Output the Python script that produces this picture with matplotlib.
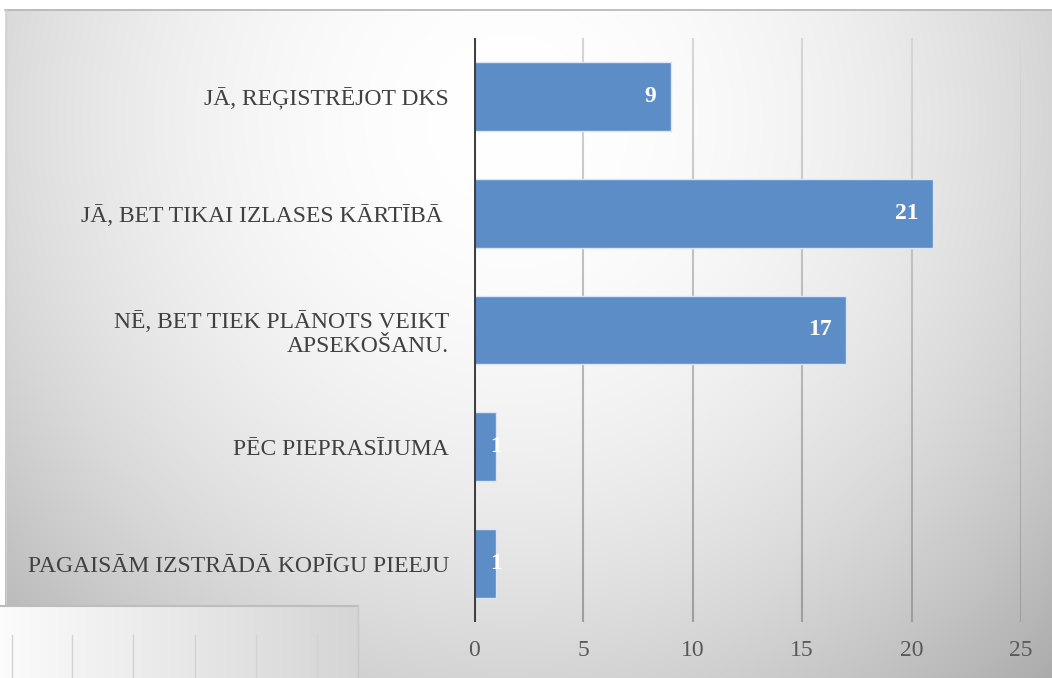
import numpy as np
import matplotlib
matplotlib.use('Agg')
import matplotlib.pyplot as plt
from matplotlib.collections import LineCollection

categories = ["JĀ, REĢISTRĒJOT DKS",
              "JĀ, BET TIKAI IZLASES KĀRTĪBĀ ",
              "NĒ, BET TIEK PLĀNOTS VEIKT\nAPSEKOŠANU.",
              "PĒC PIEPRASĪJUMA",
              "PAGAISĀM IZSTRĀDĀ KOPĪGU PIEEJU"]
values = [9, 21, 17, 1, 1]
xticks = [0, 5, 10, 15, 20, 25]

W, H = 1052, 678
SERIF = ['Liberation Serif', 'DejaVu Serif']
FS = 17
fig = plt.figure(figsize=(W / 100, H / 100), dpi=100)
fig.patch.set_facecolor('white')

# ---- background (radial gradient chart area) ----
bg = fig.add_axes([0, 0, 1, 1], zorder=0)
bg.set_xlim(0, W); bg.set_ylim(H, 0); bg.axis('off')
x0, y0 = 5, 9
yy, xx = np.mgrid[y0:H, x0:W]
d = np.sqrt(((xx - 510) / 600.0) ** 2 + ((yy - 120) / 610.0) ** 2)
v = 1 - 0.2 * np.clip(d, 0, 1.3) ** 2
img = np.dstack([v, v, v])
bg.imshow(img, extent=(x0, W, H, y0), aspect='auto', interpolation='bilinear')
bg.plot([x0, W], [y0 + 0.5, y0 + 0.5], color='#b5b5b5', lw=1.2)
bg.plot([x0 + 0.5, x0 + 0.5], [y0, H], color='#d0d0d0', lw=0.8)

# ---- main chart ----
ax = fig.add_axes([474 / W, 1 - 622 / H, (1021 - 474) / W, (622 - 38) / H], zorder=2)
ax.patch.set_alpha(0)
y = np.arange(len(categories))
bars = ax.barh(y, values, height=0.59, color='#5d8dc7', edgecolor='#dce6f2',
               linewidth=1, zorder=3)
ax.set_xlim(0, 25)
ax.set_ylim(len(categories) - 0.5, -0.5)

# gridlines with vertical tone gradient (light at top, darker at bottom)
nseg = 60
ys = np.linspace(-0.5, len(categories) - 0.5, nseg + 1)
for t in xticks[1:]:
    segs = [[(t, ys[i]), (t, ys[i + 1])] for i in range(nseg)]
    tone = np.linspace(0.84, 0.62, nseg)
    cols = [(c, c, c) for c in tone]
    ax.add_collection(LineCollection(segs, colors=cols, linewidths=1.5, zorder=1))
ax.axvline(0, color='#404040', lw=2.2, zorder=4)
for s in ax.spines.values():
    s.set_visible(False)
ax.set_yticks(y)
ax.set_yticklabels(categories, fontfamily=SERIF, fontsize=FS, color='#404040',
                   linespacing=1.2)
ax.tick_params(axis='y', length=0, pad=18)
ax.set_xticks(xticks)
ax.set_xticklabels([str(t) for t in xticks], fontfamily=SERIF, fontsize=FS, color='#595959')
ax.tick_params(axis='x', length=0, pad=13)

px_per_unit = (1021 - 474) / 25.0
for yi, val in zip(y, values):
    if val * px_per_unit < 40:
        ax.annotate(str(val), xy=(0, yi), xytext=(11.5, 0), textcoords='offset points',
                    ha='left', va='center', color='white', fontweight='bold',
                    fontfamily=SERIF, fontsize=FS, zorder=5)
    else:
        ax.annotate(str(val), xy=(val, yi), xytext=(-10.5, 0), textcoords='offset points',
                    ha='right', va='center', color='white', fontweight='bold',
                    fontfamily=SERIF, fontsize=FS, zorder=5)

# ---- overlapping fragment at bottom-left ----
ov = fig.add_axes([0, 0, 1, 1], zorder=5)
ov.patch.set_alpha(0)
ov.set_xlim(0, W); ov.set_ylim(H, 0); ov.axis('off')
ox1, oy0 = 358, 605
gx = np.linspace(0.985, 0.835, 200)
grad = np.dstack([np.tile(gx, (10, 1))] * 3)
ov.imshow(grad, extent=(0, ox1, H, oy0), aspect='auto', interpolation='bilinear')
ov.plot([0, ox1], [oy0 + 0.5, oy0 + 0.5], color='#bdbdbd', lw=1.5)
ov.plot([ox1, ox1], [oy0, H], color='#c8c8c8', lw=1)
for gxp in [12, 72, 133, 195, 256, 317]:
    ov.plot([gxp, gxp], [635, H], color='#d2d2d2', lw=1)
ov.set_xlim(0, W); ov.set_ylim(H, 0)

fig.savefig('out.png', dpi=100)
